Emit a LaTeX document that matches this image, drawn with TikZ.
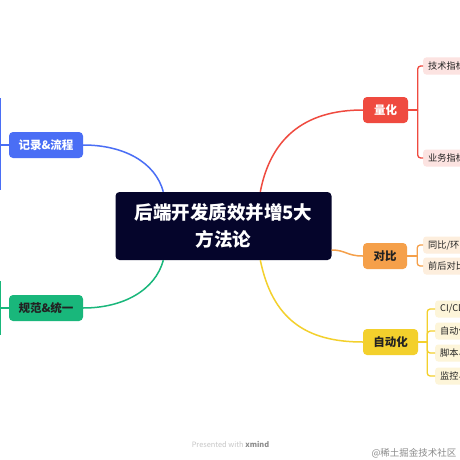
\documentclass[tikz,border=0pt]{standalone}
\usepackage{fontspec}
\setmainfont{Noto Sans CJK SC}
\usetikzlibrary{calc}
\definecolor{navy}{HTML}{05052B}
\definecolor{cblue}{HTML}{4A6EF5}
\definecolor{cgreen}{HTML}{19B77B}
\definecolor{cred}{HTML}{EF4A3F}
\definecolor{corange}{HTML}{F5A04A}
\definecolor{cyellow}{HTML}{F3D02C}
\definecolor{pred}{HTML}{FCE3E1}
\definecolor{porange}{HTML}{FDEEDD}
\definecolor{pyellow}{HTML}{FDF5D9}
\definecolor{tdark}{HTML}{222222}
\tikzset{
  central/.style={fill=navy, rounded corners=4pt, minimum width=216pt, minimum height=68pt, inner sep=0pt, align=center, text=white, font=\bfseries\fontsize{18.5}{27}\selectfont},
  branch/.style={rounded corners=4pt, minimum height=26pt, inner sep=0pt, font=\bfseries\fontsize{11.5}{13}\selectfont},
  leaf/.style={rounded corners=3pt, minimum height=17pt, minimum width=60pt, inner xsep=5pt, inner ysep=0pt, anchor=west, text=tdark, align=left, text width=55pt, font=\fontsize{9.2}{11}\selectfont},
  conn/.style={line width=1.5pt},
  brk/.style={line width=1.3pt, rounded corners=3pt},
}
\begin{document}
\begin{tikzpicture}[x=1pt,y=-1pt]
\fill[white] (0,0) rectangle (460,460);
\path[clip] (0,0) rectangle (460,460);
\useasboundingbox (0,0) rectangle (460,460);

\node[central] (c) at (223.5,226) {后端开发质效并增5大\\方法论};

\node[branch, fill=cblue, text=white, minimum width=74pt] (jl) at (46,145) {记录\&流程};
\node[branch, fill=cgreen, text=tdark, minimum width=74pt] (gf) at (46,308) {规范\&统一};
\node[branch, fill=cred, text=white, minimum width=45pt] (lh) at (385.5,110) {量化};
\node[branch, fill=corange, text=tdark, minimum width=44pt] (db) at (385,256) {对比};
\node[branch, fill=cyellow, text=tdark, minimum width=55pt] (zd) at (390.5,342) {自动化};

% leaves
\node[leaf, fill=pred] (lh1) at (423,66) {技术指标};
\node[leaf, fill=pred] (lh2) at (423,158) {业务指标};
\node[leaf, fill=porange] (db1) at (423,245) {同比/环比};
\node[leaf, fill=porange] (db2) at (423,266) {前后对比};
\node[leaf, fill=pyellow] (zd1) at (435,309) {CI/CD};
\node[leaf, fill=pyellow] (zd2) at (435,331) {自动化};
\node[leaf, fill=pyellow] (zd3) at (435,353) {脚本与};
\node[leaf, fill=pyellow] (zd4) at (435,376) {监控与};

% main connectors
\coordinate (cb) at ($(c.north west)+(48,0)$);
\coordinate (cr) at ($(c.north west)+(145,0)$);
\coordinate (cg) at ($(c.south west)+(48,0)$);
\coordinate (cy) at ($(c.south west)+(145,0)$);
\coordinate (co) at ($(c.east)+(0,24)$);
\draw[conn, cblue] (jl.east) .. controls +(40,0) and +(-8,-30) .. (cb);
\draw[conn, cgreen] (gf.east) .. controls +(40,0) and +(-8,30) .. (cg);
\draw[conn, cred] (cr) .. controls +(10,-52) and +(-60,0) .. (lh.west);
\draw[conn, cyellow] (cy) .. controls +(12,58) and +(-58,0) .. (zd.west);
\draw[conn, corange] (co) .. controls +(14,0) and +(-16,0) .. (db.west);

% left brackets (children off-page)
\coordinate (jlb) at (0.8,145);
\coordinate (jlt) at (0.8,98);
\coordinate (jld) at (0.8,190);
\draw[brk, cblue] (jl.west) -- (jlb);
\draw[brk, cblue] (jlt) -- (jld);
\coordinate (gfb) at (0.8,308);
\coordinate (gft) at (0.8,281);
\coordinate (gfd) at (0.8,335);
\draw[brk, cgreen] (gf.west) -- (gfb);
\draw[brk, cgreen] (gft) -- (gfd);

% right brackets
\draw[brk, cred] (lh.east) -- ++(9.5,0) coordinate (lhb);
\draw[brk, cred] (lhb) |- (lh1.west);
\draw[brk, cred] (lhb) |- (lh2.west);
\draw[brk, corange] (db.east) -- ++(10,0) coordinate (dbb);
\draw[brk, corange] (dbb) |- (db1.west);
\draw[brk, corange] (dbb) |- (db2.west);
\draw[brk, cyellow] (zd.east) -- ++(9,0) coordinate (zdb);
\draw[brk, cyellow] (zdb) |- (zd1.west);
\draw[brk, cyellow] (zdb) |- (zd2.west);
\draw[brk, cyellow] (zdb) |- (zd3.west);
\draw[brk, cyellow] (zdb) |- (zd4.west);

% footer
\node[text=black!22, font=\fontsize{7.4}{8}\selectfont, inner sep=0pt] (pw) at (230.5,444) {Presented with \textcolor{black!45}{\bfseries xmind}};
\node[text=black!45, font=\fontsize{9.5}{11}\selectfont, inner sep=0pt] (wm) at (414,453) {@稀土掘金技术社区};
\end{tikzpicture}
\end{document}
